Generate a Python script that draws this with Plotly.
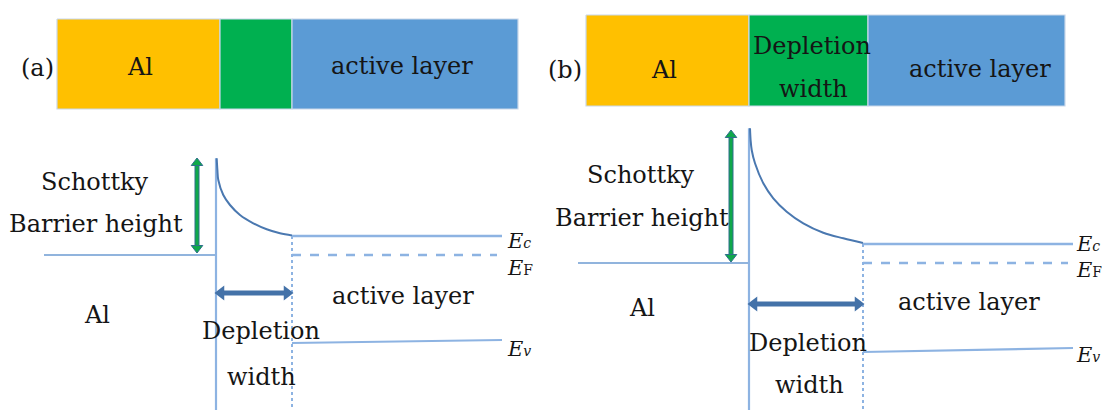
import plotly.graph_objects as go

W, H = 1102, 410
FONT = "DejaVu Serif"
TEXT_COLOR = "#151515"

# ---------------- layer strips (top row) ----------------
strip_names = ["Al", "depletion", "active layer"]
strip_colors = ["#FFC000", "#00B050", "#5B9BD5"]
strip_a_edges = [57, 220, 292, 518]
strip_a_span = [19, 109]
strip_b_edges = [586, 749, 868, 1065]
strip_b_span = [15, 106]

# ---------------- band diagram (a) ----------------
a_metal_x = [44, 216]          # metal Fermi level extent
a_interface_x = 216
a_edge_x = 292                 # end of depletion region
a_right_x = 502
a_levels = {"Ec": 236, "EF": 255}
a_ev_y = [343, 340]
a_barrier_y = [158, 253]
a_barrier_x = 197
a_depl_y = 293
a_curve_x = [216.7, 217.4, 218.3, 223.3, 230.0, 240.0, 253.3, 266.7, 280.0, 292.0]
a_curve_y = [158.3, 170.0, 180.0, 195.0, 205.0, 215.0, 223.3, 229.3, 233.3, 235.5]

# ---------------- band diagram (b) ----------------
b_metal_x = [578, 749]
b_interface_x = 749
b_edge_x = 863
b_right_x = 1073
b_levels = {"Ec": 244, "EF": 263}
b_ev_y = [352, 348]
b_barrier_y = [130, 262]
b_barrier_x = 731
b_depl_y = 304
b_curve_x = [750.0, 750.6, 751.7, 755.0, 763.3, 773.3, 786.7, 803.3, 823.3, 843.3, 863.0]
b_curve_y = [128.3, 140.0, 150.0, 163.3, 183.3, 198.3, 211.7, 223.3, 232.7, 238.3, 243.0]

LIGHT = "#8DB3E2"
THIN = "#6C9BD2"
CURVE = "#4A78B0"
ARROW = "#4472A8"
GREEN = "#0FA84A"
GREEN_EDGE = "#2F6E8C"

fig = go.Figure()


def line(xs, ys, color, width, dash="solid", shape="linear"):
    fig.add_trace(go.Scatter(x=xs, y=ys, mode="lines",
                             line=dict(color=color, width=width, dash=dash, shape=shape),
                             hoverinfo="skip", showlegend=False))


def strip(edges, span):
    for i, color in enumerate(strip_colors):
        x0, x1 = edges[i], edges[i + 1]
        y0, y1 = span
        fig.add_trace(go.Scatter(x=[x0, x1, x1, x0, x0], y=[y0, y0, y1, y1, y0],
                                 mode="lines", fill="toself", fillcolor=color,
                                 line=dict(color="#C9D7EA", width=1.2),
                                 hoverinfo="skip", showlegend=False))


def double_arrow_h(x0, x1, y):
    line([x0 + 7, x1 - 7], [y, y], ARROW, 5)
    fig.add_trace(go.Scatter(x=[x0 + 5, x1 - 5], y=[y, y], mode="markers",
                             marker=dict(symbol=["triangle-left", "triangle-right"],
                                         size=13, color=ARROW,
                                         line=dict(width=0)),
                             hoverinfo="skip", showlegend=False))


def double_arrow_v(x, y0, y1):
    line([x, x], [y0 + 6, y1 - 6], GREEN_EDGE, 5)
    line([x, x], [y0 + 6, y1 - 6], GREEN, 3)
    fig.add_trace(go.Scatter(x=[x, x], y=[y0 + 5, y1 - 5], mode="markers",
                             marker=dict(symbol=["triangle-up", "triangle-down"],
                                         size=10, color=GREEN,
                                         line=dict(width=1, color=GREEN_EDGE)),
                             hoverinfo="skip", showlegend=False))


def band_panel(metal_x, interface_x, edge_x, right_x, levels, ev_y,
               barrier_x, barrier_y, depl_y, curve_x, curve_y):
    # metal Fermi level
    line(metal_x, [levels["EF"], levels["EF"]], THIN, 1.6)
    # metal / semiconductor interface
    line([interface_x, interface_x], [curve_y[0], H], LIGHT, 2.2)
    # band bending in the depletion region
    line(curve_x, curve_y, CURVE, 2, shape="spline")
    # depletion edge
    line([edge_x, edge_x], [levels["Ec"], H], LIGHT, 2, dash="dot")
    # flat bands in the active layer
    line([edge_x, right_x], [levels["Ec"], levels["Ec"]], LIGHT, 2.6)
    line([edge_x, right_x - 5], [levels["EF"], levels["EF"]], LIGHT, 2.4, dash="dash")
    line([edge_x, right_x], ev_y, LIGHT, 2.2)
    # barrier height and depletion width arrows
    double_arrow_v(barrier_x, barrier_y[0], barrier_y[1])
    double_arrow_h(interface_x, edge_x, depl_y)


strip(strip_a_edges, strip_a_span)
strip(strip_b_edges, strip_b_span)

band_panel(a_metal_x, a_interface_x, a_edge_x, a_right_x, a_levels, a_ev_y,
           a_barrier_x, a_barrier_y, a_depl_y, a_curve_x, a_curve_y)
band_panel(b_metal_x, b_interface_x, b_edge_x, b_right_x, b_levels, b_ev_y,
           b_barrier_x, b_barrier_y, b_depl_y, b_curve_x, b_curve_y)

# ---------------- labels ----------------
labels = [
    # (text, x, y)
    ("(a)", 37, 68), ("Al", 140, 67), ("active layer", 402, 66),
    ("(b)", 565, 70), ("Al", 664, 70), ("Depletion", 812, 46), ("width", 813, 89),
    ("active layer", 980, 69),
    ("Schottky", 95, 182), ("Barrier height", 96, 224), ("Al", 97, 315),
    ("active layer", 403, 296), ("Depletion", 261, 331), ("width", 261, 377),
    ("Schottky", 641, 175), ("Barrier height", 642, 218), ("Al", 642, 308),
    ("active layer", 969, 302), ("Depletion", 808, 343), ("width", 809, 385),
]
for text, x, y in labels:
    fig.add_annotation(x=x, y=y, text=text, showarrow=False, xanchor="center",
                       yanchor="middle", font=dict(family=FONT, size=24, color=TEXT_COLOR))

energy_labels = [
    ("<i>E</i><span style='font-size:14px'><i>c</i></span>", 505, 241),
    ("<i>E</i><span style='font-size:14px'>F</span>", 505, 268),
    ("<i>E</i><span style='font-size:14px'><i>v</i></span>", 505, 349),
    ("<i>E</i><span style='font-size:14px'><i>c</i></span>", 1074, 244),
    ("<i>E</i><span style='font-size:14px'>F</span>", 1074, 270),
    ("<i>E</i><span style='font-size:14px'><i>v</i></span>", 1074, 355),
]
for text, x, y in energy_labels:
    fig.add_annotation(x=x, y=y, text=text, showarrow=False, xanchor="left",
                       yanchor="middle", font=dict(family=FONT, size=21, color=TEXT_COLOR))

fig.update_layout(
    width=W, height=H,
    margin=dict(l=0, r=0, t=0, b=0),
    paper_bgcolor="white", plot_bgcolor="white",
    xaxis=dict(range=[0, W], visible=False, fixedrange=True),
    yaxis=dict(range=[H, 0], visible=False, fixedrange=True),
    showlegend=False,
)

fig.write_html("out.html")
